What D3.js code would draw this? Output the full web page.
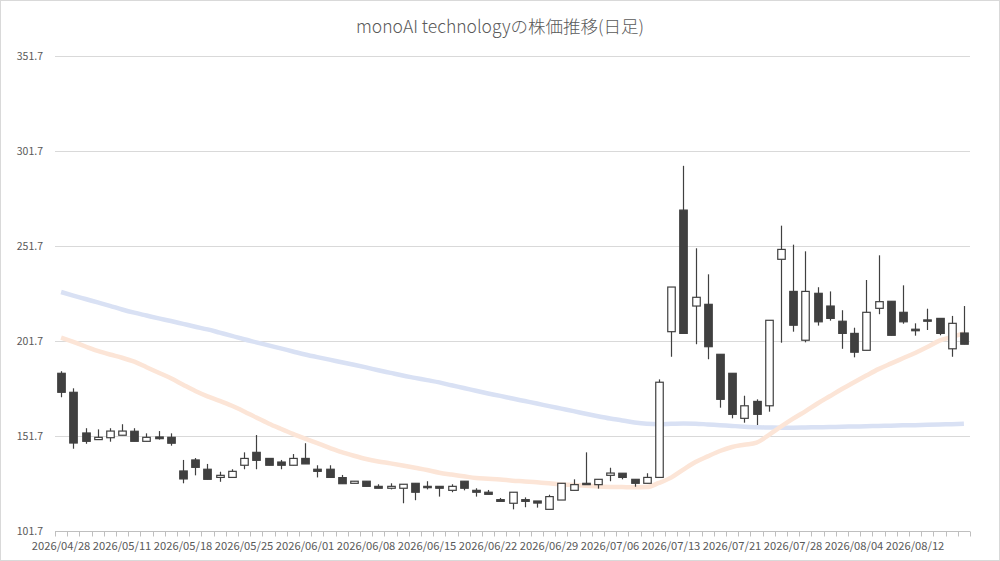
<!DOCTYPE html>
<html><head><meta charset="utf-8">
<script src="https://cdn.jsdelivr.net/npm/d3@7"></script>
<style>
html,body{margin:0;padding:0;background:#fff;}
svg{display:block;}
</style></head>
<body>
<svg id="chart" width="1000" height="561"></svg>
<script>
const dates = [
"2026/04/28","2026/04/30","2026/05/01","2026/05/07","2026/05/08",
"2026/05/11","2026/05/12","2026/05/13","2026/05/14","2026/05/15",
"2026/05/18","2026/05/19","2026/05/20","2026/05/21","2026/05/22",
"2026/05/25","2026/05/26","2026/05/27","2026/05/28","2026/05/29",
"2026/06/01","2026/06/02","2026/06/03","2026/06/04","2026/06/05",
"2026/06/08","2026/06/09","2026/06/10","2026/06/11","2026/06/12",
"2026/06/15","2026/06/16","2026/06/17","2026/06/18","2026/06/19",
"2026/06/22","2026/06/23","2026/06/24","2026/06/25","2026/06/26",
"2026/06/29","2026/06/30","2026/07/01","2026/07/02","2026/07/03",
"2026/07/06","2026/07/07","2026/07/08","2026/07/09","2026/07/10",
"2026/07/13","2026/07/14","2026/07/15","2026/07/16","2026/07/17",
"2026/07/21","2026/07/22","2026/07/23","2026/07/24","2026/07/27",
"2026/07/28","2026/07/29","2026/07/30","2026/07/31","2026/08/03",
"2026/08/04","2026/08/05","2026/08/06","2026/08/07","2026/08/10",
"2026/08/12","2026/08/13","2026/08/14","2026/08/17","2026/08/18"];

const openVals = [184.7,174.7,153.3,149.8,150.8,152.1,154.2,148.9,151.2,151.0,
133.3,139.1,134.2,129.9,129.9,136.3,143.1,139.9,138.0,136.3,
139.9,134.2,134.2,129.8,126.8,127.9,125.2,124.2,124.2,126.8,
125.2,125.2,123.1,127.9,123.1,122.1,118.2,116.3,118.2,117.5,
113.1,118.0,123.1,126.8,126.1,131.0,132.1,128.9,126.8,129.9,
206.6,270.6,220.1,221.0,194.7,184.7,161.0,169.9,167.6,244.7,
227.8,202.1,226.8,220.1,212.1,205.7,196.8,218.9,222.6,216.8,
207.9,212.8,213.6,197.6,205.9];
const highVals = [185.8,176.8,155.8,155.2,155.8,157.9,155.8,153.1,154.3,153.1,
139.1,140.1,137.0,132.9,134.2,143.1,152.2,139.9,139.1,142.2,
147.9,136.3,136.3,131.2,127.9,127.9,126.3,126.8,126.3,126.8,
127.9,125.2,126.3,127.9,124.2,123.3,119.1,122.1,119.4,117.5,
120.8,126.8,128.9,143.1,128.9,135.0,132.1,128.9,132.1,181.5,
230.1,293.9,250.5,236.8,194.7,184.7,172.9,171.0,212.6,262.4,
252.4,248.9,230.0,227.8,217.9,208.7,233.8,246.8,222.6,231.0,
211.0,218.7,213.6,214.9,220.1];
const lowVals = [172.1,145.0,147.6,149.8,148.7,152.1,148.9,148.9,149.8,146.6,
126.8,131.0,128.9,127.6,129.9,134.2,134.2,136.3,134.2,136.3,
137.0,129.9,129.9,126.6,126.8,125.2,124.2,123.6,116.3,117.9,
123.6,119.8,122.1,123.1,119.8,121.0,117.3,113.1,114.2,114.0,
113.1,118.0,123.1,126.1,124.0,127.9,128.9,125.0,126.8,129.9,
193.4,205.7,200.0,192.1,166.6,161.0,158.7,157.5,164.5,200.8,
206.6,201.0,209.8,212.4,197.6,193.1,196.8,215.8,204.7,210.8,
204.5,207.5,204.7,193.4,200.0];
const closeVals = [174.7,148.0,148.9,151.0,154.3,154.3,148.9,151.0,150.3,147.9,
129.1,135.2,128.9,131.0,133.1,139.9,138.9,136.3,136.3,139.9,
137.0,133.1,129.9,126.6,127.9,125.2,124.2,125.2,126.3,122.1,
124.5,124.2,125.2,124.2,122.1,121.0,117.3,122.1,117.3,116.4,
119.8,126.8,126.1,126.1,128.9,132.2,129.9,126.8,129.9,180.0,
230.1,205.7,224.7,198.7,171.0,163.1,167.6,163.1,212.6,249.9,
210.0,227.8,211.8,213.6,205.7,195.8,216.8,222.4,204.7,211.8,
207.1,212.1,205.7,211.0,200.0];
const ma25 = [203.5,201.2,198.8,196.5,194.6,192.9,190.8,187.9,185.0,182.1,
178.7,175.4,172.6,170.2,167.6,164.6,161.4,158.3,155.5,152.8,
150.3,147.9,145.5,143.2,141.3,139.6,138.3,137.3,136.2,135.0,
133.8,132.4,131.4,130.5,129.6,129.2,128.8,128.2,127.8,127.3,
126.8,126.2,125.9,125.5,125.1,124.9,124.8,124.7,124.8,127.0,
129.8,134.0,138.0,141.0,143.8,145.9,147.1,148.2,152.2,156.6,
160.8,164.7,168.8,172.6,176.4,180.0,183.5,186.9,189.8,192.6,
195.4,198.5,201.9,203.8,205.7];
const ma75 = [227.5,225.6,223.8,222.0,220.2,218.3,216.6,215.1,213.6,212.2,
210.7,209.2,207.8,206.1,204.4,202.6,201.0,199.4,197.8,196.2,
194.6,193.2,191.9,190.5,189.2,187.8,186.3,184.9,183.5,182.3,
181.1,179.9,178.4,177.0,175.5,174.1,172.8,171.4,170.1,168.8,
167.4,166.1,164.8,163.4,162.1,160.9,159.9,158.8,158.1,157.9,
158.1,158.3,158.2,157.8,157.4,157.0,156.6,156.3,156.2,156.1,
156.1,156.2,156.3,156.4,156.6,156.7,156.8,157.0,157.1,157.3,
157.4,157.6,157.8,157.9,158.1];
const yTicks = [101.7,151.7,201.7,251.7,301.7,351.7];
const chartTitle = "monoAI technologyの株価推移(日足)";

(function(){
const data = dates.map((d,i)=>({d, o:openVals[i], h:highVals[i], l:lowVals[i], c:closeVals[i], m25:ma25[i], m75:ma75[i]}));

const svg = d3.select("#chart");
const font = "'Noto Sans CJK JP','Noto Sans',sans-serif";
const pL = 55, pR = 970, pT = 56, pB = 531;

svg.append("rect").attr("x",0.5).attr("y",0.5).attr("width",999).attr("height",560)
  .attr("fill","#fff").attr("stroke","#d9d9d9");

const x = d3.scaleBand().domain(dates).range([pL,pR]).padding(0);
const y = d3.scaleLinear().domain([101.7,351.7]).range([pB,pT]);

// gridlines
svg.append("g").selectAll("line").data(yTicks.slice(1)).join("line")
  .attr("x1",pL).attr("x2",pR)
  .attr("y1",d=>Math.round(y(d))+0.5).attr("y2",d=>Math.round(y(d))+0.5)
  .attr("stroke","#d9d9d9").attr("stroke-width",1);

// y labels
svg.append("g").selectAll("text").data(yTicks).join("text")
  .attr("x",43).attr("y",d=>y(d)+3.8).attr("text-anchor","end")
  .attr("font-family",font).attr("font-size",10.5).attr("fill","#595959")
  .text(d=>d3.format(".1f")(d));

// x axis
const ax = svg.append("g").attr("transform",`translate(0,${pB+0.5})`);
ax.append("line").attr("x1",pL).attr("x2",pR).attr("stroke","#bfbfbf");
ax.selectAll("line.tk").data(d3.range(dates.length+1)).join("line").attr("class","tk")
  .attr("x1",i=>Math.round(pL + i*x.step())+0.5).attr("x2",i=>Math.round(pL + i*x.step())+0.5)
  .attr("y1",0).attr("y2",5).attr("stroke","#bfbfbf");
ax.selectAll("text").data(dates.filter((d,i)=>i%5===0)).join("text")
  .attr("x",d=>x(d)+x.bandwidth()/2).attr("y",18.5).attr("text-anchor","middle")
  .attr("font-family",font).attr("font-size",11.2).attr("fill","#595959")
  .text(d=>d);

// moving averages
const cx = d=>x(d.d)+x.bandwidth()/2;
svg.append("path").datum(data)
  .attr("d",d3.line().x(cx).y(d=>y(d.m75)).curve(d3.curveMonotoneX))
  .attr("fill","none").attr("stroke","#d9e1f4").attr("stroke-width",4.5)
  .attr("stroke-linejoin","round");
svg.append("path").datum(data)
  .attr("d",d3.line().x(cx).y(d=>y(d.m25)).curve(d3.curveMonotoneX))
  .attr("fill","none").attr("stroke","#fce5d7").attr("stroke-width",4.5)
  .attr("stroke-linejoin","round");

// candles
const bw = 7.5;
const g = svg.append("g");
g.selectAll("line.wick").data(data).join("line").attr("class","wick")
  .attr("x1",d=>Math.round(cx(d))+0.5).attr("x2",d=>Math.round(cx(d))+0.5)
  .attr("y1",d=>y(d.h)).attr("y2",d=>y(d.l))
  .attr("stroke","#404040").attr("stroke-width",1.2);
g.selectAll("rect.body").data(data).join("rect").attr("class","body")
  .attr("x",d=>Math.round(cx(d))+0.5-bw/2)
  .attr("y",d=>y(Math.max(d.o,d.c)))
  .attr("width",bw)
  .attr("height",d=>Math.max(1,Math.abs(y(d.o)-y(d.c))))
  .attr("fill",d=>d.c>=d.o?"#ffffff":"#404040")
  .attr("stroke","#404040").attr("stroke-width",1.2);

// title
svg.append("text").attr("x",500).attr("y",33).attr("text-anchor","middle")
  .attr("font-family",font).attr("font-size",17.5).attr("font-weight",300).attr("fill","#595959")
  .text(chartTitle);
})();
</script>
</body></html>
